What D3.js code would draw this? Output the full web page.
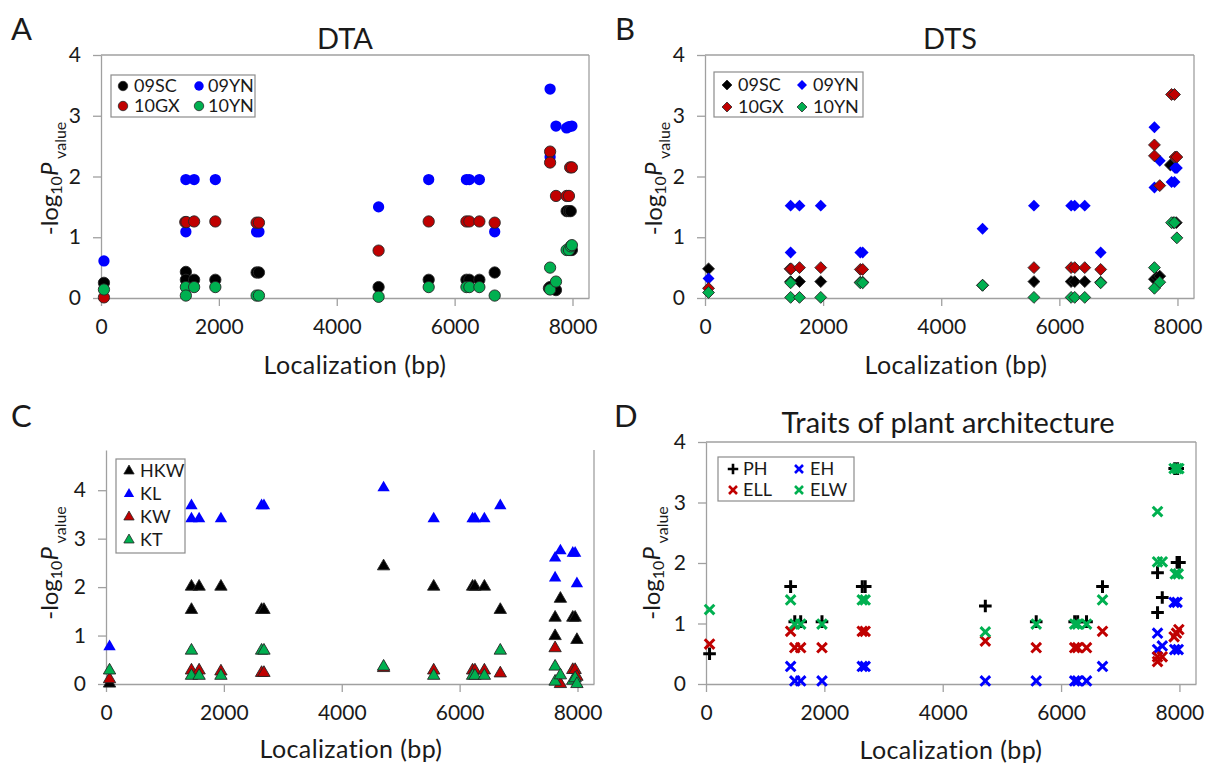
<!DOCTYPE html>
<html>
<head>
<meta charset="utf-8">
<script src="https://cdn.jsdelivr.net/npm/d3@7"></script>
<style>
body { margin: 0; background: #fff; }
svg text { font-family: Lato, "Open Sans", sans-serif; fill: #1a1a1a; font-variant-ligatures: none; }
</style>
</head>
<body>
<div id="chart"></div>
<script>
// shared axis ticks
const xTicks = [0, 2000, 4000, 6000, 8000];
const yTicks = [0, 1, 2, 3, 4];

// A - DTA, [bp, -log10 P]
const dta09SC = [[50,0.25],[1440,0.43],[1440,0.30],[1580,0.30],[1940,0.30],[2640,0.42],[2680,0.42],[4710,0.18],[5560,0.30],[6200,0.30],[6250,0.30],[6420,0.30],[6680,0.42],[7600,0.16],[7620,0.18],[7720,0.13],[7900,1.43],[7940,1.43],[7970,1.43],[7960,0.79],[7990,0.79]];
const dta09YN = [[50,0.61],[1440,1.95],[1440,1.09],[1580,1.95],[1940,1.95],[2640,1.09],[2680,1.09],[4710,1.50],[5560,1.95],[6200,1.95],[6250,1.95],[6420,1.95],[6680,1.09],[7620,3.44],[7620,2.32],[7720,2.83],[7900,2.80],[7940,2.82],[7990,2.83]];
const dta10GX = [[50,0.01],[1430,1.25],[1450,1.25],[1580,1.26],[1940,1.26],[2640,1.24],[2680,1.24],[4710,0.78],[5560,1.26],[6200,1.26],[6250,1.26],[6420,1.26],[6680,1.24],[7620,2.41],[7620,2.23],[7720,1.68],[7900,1.68],[7940,1.68],[7960,2.15],[7990,2.15]];
const dta10YN = [[50,0.14],[1440,0.18],[1440,0.04],[1580,0.18],[1940,0.18],[2640,0.04],[2680,0.04],[4710,0.02],[5560,0.18],[6200,0.18],[6250,0.18],[6420,0.18],[6680,0.04],[7620,0.50],[7620,0.14],[7720,0.27],[7900,0.79],[7940,0.79],[7970,0.85],[7990,0.87]];

// B - DTS
const dts09SC = [[60,0.48],[1450,0.27],[1600,0.27],[1960,0.27],[2630,0.26],[2670,0.26],[4700,0.21],[5570,0.27],[6200,0.27],[6260,0.27],[6430,0.27],[6700,0.26],[7610,0.31],[7650,0.34],[7700,0.36],[7880,2.19],[7930,1.24],[7980,1.24]];
const dts09YN = [[60,0.32],[1450,1.52],[1450,0.75],[1600,1.52],[1960,1.52],[2630,0.75],[2670,0.75],[4700,1.14],[5570,1.52],[6200,1.52],[6260,1.52],[6430,1.52],[6700,0.75],[7610,2.81],[7610,1.82],[7700,2.26],[7900,1.91],[7950,1.91],[7960,2.14],[7990,2.14]];
const dts10GX = [[60,0.16],[1440,0.48],[1460,0.48],[1600,0.50],[1960,0.50],[2630,0.47],[2670,0.47],[5570,0.50],[6200,0.50],[6260,0.50],[6430,0.50],[6700,0.47],[7610,2.52],[7610,2.34],[7700,1.85],[7900,3.35],[7950,3.35],[7960,2.32],[7990,2.32]];
const dts10YN = [[60,0.09],[1450,0.25],[1450,0.01],[1600,0.01],[1960,0.01],[2630,0.25],[2670,0.25],[4700,0.21],[5570,0.01],[6200,0.01],[6260,0.01],[6430,0.01],[6700,0.25],[7610,0.50],[7610,0.16],[7700,0.26],[7900,1.24],[7950,1.24],[7990,0.99]];

// C - kernel traits
const hkw = [[60,0.01],[1450,2.01],[1450,1.53],[1580,2.01],[1950,2.01],[2640,1.53],[2680,1.53],[4710,2.43],[5560,2.01],[6220,2.01],[6260,2.01],[6420,2.01],[6690,1.53],[7620,1.37],[7620,0.99],[7710,1.76],[7920,1.37],[7960,1.37],[7990,0.91]];
const kl = [[60,0.77],[1450,3.68],[1450,3.41],[1580,3.41],[1950,3.41],[2640,3.68],[2680,3.68],[4710,4.05],[5560,3.41],[6220,3.41],[6260,3.41],[6420,3.41],[6690,3.68],[7620,2.60],[7620,2.19],[7710,2.75],[7920,2.70],[7960,2.70],[7990,2.07]];
const kw = [[60,0.10],[1450,0.28],[1580,0.28],[1950,0.26],[2640,0.23],[2680,0.23],[4710,0.33],[5560,0.28],[6220,0.28],[6260,0.28],[6420,0.28],[6690,0.22],[7620,0.74],[7710,0.0],[7920,0.29],[7960,0.29],[7990,0.15]];
const kt = [[60,0.28],[1450,0.69],[1450,0.17],[1580,0.17],[1950,0.17],[2640,0.69],[2680,0.69],[4710,0.36],[5560,0.17],[6220,0.17],[6260,0.17],[6420,0.17],[6690,0.69],[7620,0.36],[7620,0.05],[7710,0.18],[7920,0.07],[7960,0.12],[7990,0.0]];

// D - plant architecture
const ph = [[60,0.50],[1430,1.61],[1500,1.03],[1600,1.03],[1960,1.03],[2640,1.61],[2690,1.61],[4720,1.29],[5580,1.03],[6230,1.03],[6280,1.03],[6430,1.03],[6700,1.61],[7630,1.84],[7630,1.18],[7710,1.43],[7920,3.56],[7970,3.56],[7960,2.01],[8000,2.01]];
const eh = [[1430,0.29],[1500,0.05],[1600,0.05],[1960,0.05],[2640,0.29],[2690,0.29],[4720,0.05],[5580,0.05],[6230,0.05],[6280,0.05],[6430,0.05],[6700,0.29],[7630,0.84],[7630,0.57],[7710,0.63],[7910,1.35],[7960,1.35],[7920,0.57],[7980,0.57]];
const ell = [[60,0.66],[1430,0.87],[1500,0.60],[1600,0.60],[1960,0.60],[2640,0.87],[2690,0.87],[4720,0.71],[5580,0.60],[6230,0.60],[6280,0.60],[6430,0.60],[6700,0.87],[7630,0.45],[7630,0.37],[7710,0.45],[7910,0.78],[7950,0.84],[7990,0.90]];
const elw = [[60,1.23],[1430,1.39],[1500,0.99],[1600,0.99],[1960,0.99],[2640,1.39],[2690,1.39],[4720,0.86],[5580,0.99],[6230,0.99],[6280,0.99],[6430,0.99],[6700,1.39],[7630,2.85],[7630,2.02],[7710,2.02],[7910,3.56],[7960,3.56],[7990,3.56],[7930,1.82],[7980,1.82]];

const BLACK = "#000000", BLUE = "#0000ff", RED = "#c00000", GREEN = "#00b050";
const GRID = "#a0a0a0";

const width = 1207, height = 763;

const svg = d3.select("#chart").append("svg")
	.attr("width", width)
	.attr("height", height);

const shapes = {
	circle: { type: d3.symbolCircle, size: 100, filled: true },
	diamond: { type: d3.symbolDiamond2, size: 90, filled: true },
	triangle: { type: d3.symbolTriangle, size: 66, filled: true },
	plus: { type: d3.symbolPlus, size: 54, filled: false },
	times: { type: d3.symbolTimes, size: 62, filled: false }
};

function styleMark(sel, shape, color) {
	if (shape.filled) {
		sel.attr("fill", color)
			.attr("stroke", color == BLUE ? "none" : "#262626")
			.attr("stroke-width", 0.9);
	} else {
		sel.attr("fill", "none")
			.attr("stroke", color)
			.attr("stroke-width", 3);
	}
}

function drawPanel(cfg) {
	const g = svg.append("g").attr("class", "panel-" + cfg.letter);

	const x = d3.scaleLinear().domain([0, 8280]).range([cfg.left, cfg.right]);
	const y = d3.scaleLinear().domain([0, cfg.yMax]).range([cfg.bottom, cfg.top]);

	// frame
	if (cfg.topLine) {
		g.append("line").attr("x1", cfg.left).attr("x2", cfg.right)
			.attr("y1", cfg.top).attr("y2", cfg.top)
			.attr("stroke", GRID).attr("stroke-width", 1.3);
	}
	g.append("line").attr("x1", cfg.right).attr("x2", cfg.right)
		.attr("y1", cfg.top).attr("y2", cfg.bottom)
		.attr("stroke", GRID).attr("stroke-width", 1.3);

	const xAxis = g.append("g")
		.attr("transform", `translate(0, ${cfg.bottom})`)
		.call(d3.axisBottom(x).tickValues(xTicks).tickFormat(d3.format("d"))
			.tickSize(8).tickPadding(13).tickSizeOuter(0));
	const yAxis = g.append("g")
		.attr("transform", `translate(${cfg.left}, 0)`)
		.call(d3.axisLeft(y).tickValues(yTicks).tickFormat(d3.format("d"))
			.tickSize(8).tickPadding(12).tickSizeOuter(0));

	[xAxis, yAxis].forEach((a) => {
		a.selectAll("path, line").attr("stroke", GRID).attr("stroke-width", 1.3);
		a.selectAll("text").attr("font-size", 21).attr("fill", "#1a1a1a")
			.style("font-family", "Lato, 'Open Sans', sans-serif");
	});

	// points
	cfg.series.forEach((s) => {
		const shape = shapes[s.shape || cfg.shape];
		const sym = d3.symbol().type(shape.type).size(shape.size);
		g.append("g").selectAll("path")
			.data(s.values)
			.join("path")
			.attr("d", sym)
			.attr("transform", (d) => `translate(${x(d[0])}, ${y(d[1])})`)
			.call(styleMark, shape, s.color);
	});

	// legend
	const L = cfg.legend;
	const lg = g.append("g").attr("transform", `translate(${L.x}, ${L.y})`);
	lg.append("rect").attr("width", L.w).attr("height", L.h)
		.attr("fill", "#fff").attr("stroke", "#8c8c8c").attr("stroke-width", 1.2);
	cfg.series.forEach((s, i) => {
		const shape = shapes[s.shape || cfg.shape];
		const legSym = d3.symbol().type(shape.type).size(shape.size * 0.7);
		const pos = L.items[i];
		lg.append("path").attr("d", legSym)
			.attr("transform", `translate(${pos[0]}, ${pos[2]})`)
			.call(styleMark, shape, s.color)
			.attr("stroke-width", shape.filled ? 0.8 : 2.6);
		lg.append("text").attr("x", pos[1]).attr("y", pos[2])
			.attr("dy", "0.36em").attr("font-size", 18).text(s.name);
	});

	// titles
	if (cfg.title) {
		g.append("text").attr("x", cfg.titleX).attr("y", cfg.titleY)
			.attr("text-anchor", "middle").attr("font-size", 29).text(cfg.title);
	}
	g.append("text").attr("x", cfg.letterX).attr("y", cfg.letterY)
		.attr("font-size", 31).text(cfg.letter);

	g.append("text").attr("x", cfg.xLabelX).attr("y", cfg.xLabelY)
		.attr("text-anchor", "middle").attr("font-size", 25)
		.attr("letter-spacing", 0.4).text("Localization (bp)");

	const yl = g.append("text")
		.attr("transform", `translate(${cfg.yLabelX}, ${(cfg.top + cfg.bottom) / 2 + cfg.yLabelShift}) rotate(-90)`)
		.attr("text-anchor", "middle").attr("font-size", 24);
	yl.append("tspan").text("-log");
	yl.append("tspan").attr("font-size", 16).attr("dy", 4).text("10");
	yl.append("tspan").attr("font-style", "italic").attr("dy", -4).text("P");
	yl.append("tspan").attr("font-size", 16).attr("dy", 8).text(" value");
}

const panels = [
	{
		letter: "A", title: "DTA", titleX: 345, titleY: 49, letterX: 11, letterY: 40,
		left: 101, right: 589, top: 55, bottom: 298, yMax: 4, topLine: true, shape: "circle",
		xLabelX: 355, xLabelY: 374, yLabelX: 58, yLabelShift: 2,
		series: [
			{ name: "09SC", color: BLACK, values: dta09SC },
			{ name: "09YN", color: BLUE, values: dta09YN },
			{ name: "10GX", color: RED, values: dta10GX },
			{ name: "10YN", color: GREEN, values: dta10YN }
		],
		legend: { x: 111, y: 75, w: 144, h: 42, items: [[12, 23, 11], [88, 97, 11], [12, 23, 31], [88, 97, 31]] }
	},
	{
		letter: "B", title: "DTS", titleX: 950, titleY: 49, letterX: 615, letterY: 40,
		left: 705, right: 1194, top: 55, bottom: 298, yMax: 4, topLine: true, shape: "diamond",
		xLabelX: 956, xLabelY: 374, yLabelX: 662, yLabelShift: 2,
		series: [
			{ name: "09SC", color: BLACK, values: dts09SC },
			{ name: "09YN", color: BLUE, values: dts09YN },
			{ name: "10GX", color: RED, values: dts10GX },
			{ name: "10YN", color: GREEN, values: dts10YN }
		],
		legend: { x: 714, y: 72, w: 149, h: 45, items: [[13, 24, 13], [88, 99, 13], [13, 24, 35], [88, 99, 35]] }
	},
	{
		letter: "C", title: null, letterX: 11, letterY: 427,
		left: 106, right: 594, top: 450, bottom: 684, yMax: 4.83, topLine: false, shape: "triangle",
		xLabelX: 351, xLabelY: 758, yLabelX: 58, yLabelShift: -4,
		series: [
			{ name: "HKW", color: BLACK, values: hkw },
			{ name: "KL", color: BLUE, values: kl },
			{ name: "KW", color: RED, values: kw },
			{ name: "KT", color: GREEN, values: kt }
		],
		legend: { x: 116, y: 459, w: 69, h: 94, items: [[13, 24, 12], [13, 24, 35], [13, 24, 58], [13, 24, 81]] }
	},
	{
		letter: "D", title: "Traits of plant architecture", titleX: 948, titleY: 433, letterX: 614, letterY: 427,
		left: 706, right: 1196, top: 442, bottom: 684, yMax: 4, topLine: true, shape: "plus",
		xLabelX: 951, xLabelY: 759, yLabelX: 660, yLabelShift: 0,
		series: [
			{ name: "PH", color: BLACK, values: ph, shape: "plus" },
			{ name: "EH", color: BLUE, values: eh, shape: "times" },
			{ name: "ELL", color: RED, values: ell, shape: "times" },
			{ name: "ELW", color: GREEN, values: elw, shape: "times" }
		],
		legend: { x: 718, y: 457, w: 136, h: 44, items: [[15, 25, 12], [81, 92, 12], [15, 25, 33], [81, 92, 33]] }
	}
];

panels.forEach(drawPanel);
</script>
</body>
</html>
